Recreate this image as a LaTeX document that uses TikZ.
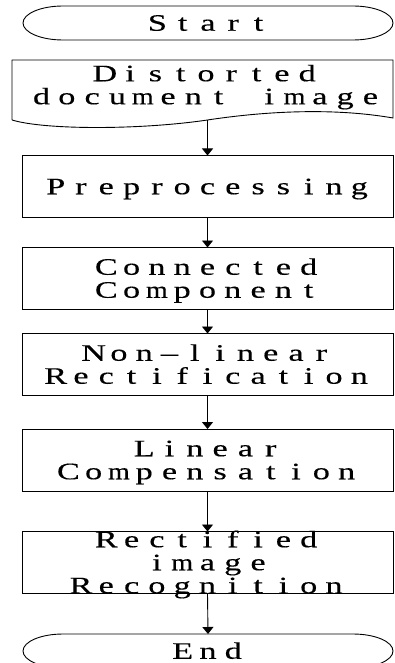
\documentclass[tikz,border=0pt]{standalone}
\usepackage{fontspec}
\usepackage{graphicx}
\usetikzlibrary{arrows.meta}
% Extended serif for all labels, set on a fixed pitch
\newfontfamily\flowfont{Liberation Serif}[FakeStretch=1.45, FakeBold=0.3]
\newlength\flowpitch
\setlength\flowpitch{25.3pt}
\def\flowstop{flowstop}
% A wide letter is narrowed so that it keeps inside its cell
\def\flowglyph#1{\ifx m#1\scalebox{0.82}[1]{m}\else#1\fi}
% Put every character of #1 into a cell of width \flowpitch (~ gives an empty cell)
\def\flowchars#1{\ifx#1\flowstop\else\makebox[\flowpitch][c]{\flowglyph#1}\expandafter\flowchars\fi}
% One label line with a fixed height (cap height) and no depth
\newcommand\flowline[1]{\raisebox{0pt}[15.5pt][0pt]{\flowchars#1\flowstop}}

\begin{document}
\begin{tikzpicture}[x=1pt,y=-1pt,
  every node/.style={font={\flowfont\fontsize{23.6}{23}\selectfont},
                     align=center, inner sep=0pt, outer sep=0pt},
  procbox/.style={draw, line width=0.9pt, minimum width=371pt, minimum height=62pt},
  terminal/.style={minimum width=300pt, minimum height=20pt},
  outline/.style={line width=0.9pt},
  flowarrow/.style={line width=0.9pt, -{Triangle[width=11pt,length=7pt]}}
]
\useasboundingbox (0,0) rectangle (394,663);
\clip (0,0) rectangle (394,663);

% Start terminal: straight top and bottom, elliptic ends
\node[terminal] (start) at (208,23) {\flowline{Start}};
\draw[outline] ([shift={(-145pt,17pt)}]start.center) -- ([shift={(145pt,17pt)}]start.center)
  arc[start angle=90, end angle=-90, x radius=40pt, y radius=17pt]
  -- ([shift={(-145pt,-17pt)}]start.center)
  arc[start angle=270, end angle=90, x radius=40pt, y radius=17pt] -- cycle;

% Input document with a wavy lower edge
\coordinate (docbase) at (207.5,120);
\draw[outline] (12,120) -- (12,60) -- (393,60) -- (393,118)
  .. controls (330,107) and (260,112) .. (docbase)
  .. controls (140,130) and (45,130) .. (12,120);
\node (doc) at (206,85) {\flowline{Distorted}\\\flowline{document~image}};

% Processing steps
\node[procbox] (pre)  at (207.5,186.5) {\flowline{Preprocessing}};
\node[procbox] (conn) at (207.5,278.5) {\flowline{Connected}\\\flowline{Component}};
\node[procbox] (nonl) at (207.5,364.5) {\flowline{Non–linear}\\\flowline{Rectification}};
\node[procbox] (lin)  at (207.5,460)   {\flowline{Linear}\\\flowline{Compensation}};
\node[procbox] (rect) at (207.5,562.5) {\flowline{Rectified}\\\flowline{image}\\\flowline{Recognition}};

% End terminal
\node[terminal] (end) at (208,651) {\flowline{End}};
\draw[outline] ([shift={(-145pt,17pt)}]end.center) -- ([shift={(145pt,17pt)}]end.center)
  arc[start angle=90, end angle=-90, x radius=40pt, y radius=17pt]
  -- ([shift={(-145pt,-17pt)}]end.center)
  arc[start angle=270, end angle=90, x radius=40pt, y radius=17pt] -- cycle;

% Flow connectors
\draw[flowarrow] (docbase) -- (pre.north);
\draw[flowarrow] (pre.south) -- (conn.north);
\draw[flowarrow] (conn.south) -- (nonl.north);
\draw[flowarrow] (nonl.south) -- (lin.north);
\draw[flowarrow] (lin.south) -- (rect.north);
\draw[flowarrow] (rect.south) -- ([yshift=17pt]end.center);
\end{tikzpicture}
\end{document}
